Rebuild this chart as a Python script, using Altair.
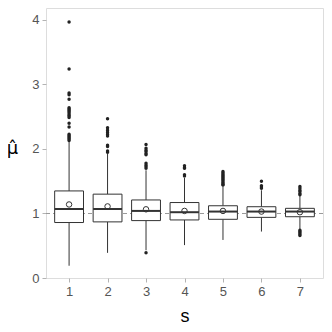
import altair as alt
import pandas as pd

s_vals = [1, 2, 3, 4, 5, 6, 7]
q1 = [0.86, 0.87, 0.89, 0.90, 0.91, 0.94, 0.95]
median = [1.07, 1.07, 1.04, 1.02, 1.03, 1.03, 1.03]
q3 = [1.35, 1.30, 1.21, 1.17, 1.12, 1.105, 1.08]
whisk_lo = [0.19, 0.39, 0.43, 0.51, 0.59, 0.72, 0.755]
whisk_hi = [2.11, 1.93, 1.67, 1.55, 1.42, 1.36, 1.28]
means = [1.14, 1.11, 1.065, 1.04, 1.04, 1.03, 1.02]

outliers = {
    1: [3.97, 3.24, 2.87, 2.84, 2.77, 2.64, 2.62, 2.60, 2.58, 2.56, 2.53, 2.51, 2.49,
        2.40, 2.34, 2.23, 2.21, 2.19, 2.17, 2.15, 2.13],
    2: [2.47, 2.33, 2.29, 2.26, 2.23, 2.20, 2.06, 2.04, 1.97, 1.95],
    3: [2.07, 2.01, 1.98, 1.96, 1.93, 1.91, 1.78, 1.75, 1.73, 1.70, 0.39],
    4: [1.74, 1.71, 1.70, 1.60, 1.58],
    5: [1.65, 1.63, 1.61, 1.59, 1.57, 1.55, 1.53, 1.51, 1.49, 1.47, 1.45, 1.44],
    6: [1.50, 1.43, 1.41, 1.39],
    7: [1.42, 1.39, 1.36, 1.34, 1.31, 1.29, 0.74, 0.72, 0.70, 0.68, 0.66],
}

box_df = pd.DataFrame({"s": s_vals, "q1": q1, "median": median, "q3": q3,
                       "lo": whisk_lo, "hi": whisk_hi, "mean": means})
out_df = pd.DataFrame([{"s": k, "v": v} for k, vs in outliers.items() for v in vs])
ref_df = pd.DataFrame({"y": [1.0]})

LINE = "#333333"
xs = alt.Scale(domain=[0.4, 7.6], nice=False, zero=False)
ys = alt.Scale(domain=[0, 4.186], nice=False, zero=False)

xax = alt.Axis(values=s_vals, grid=False, domain=False, tickColor="#b3b3b3", tickSize=4,
               labelFontSize=13, labelColor="#555555", labelPadding=3, format="d",
               title="s", titleFontSize=18, titleFontWeight="normal", titleColor="#000000",
               titlePadding=9, labelFont="Liberation Sans", titleFont="Liberation Sans")
yax = alt.Axis(values=[0, 1, 2, 3, 4], grid=False, domain=False, tickColor="#b3b3b3", tickSize=4,
               labelFontSize=13, labelColor="#555555", labelPadding=3, format="d",
               title="μ̂", titleFontSize=18, titleFontWeight="normal", titleColor="#000000",
               titleAngle=0, titleX=-34, titleY=140, titleAlign="center", titleBaseline="middle",
               labelFont="Liberation Sans", titleFont="DejaVu Sans")

base = alt.Chart(box_df).transform_calculate(
    xl="datum.s - 0.375", xr="datum.s + 0.375")

ref = alt.Chart(ref_df).mark_rule(color="#999999", strokeDash=[4, 3], strokeWidth=1).encode(
    y=alt.Y("y:Q", scale=ys, axis=yax), x=alt.value(0), x2=alt.value(277))

whisk_low = base.mark_rule(color=LINE, strokeWidth=1).encode(
    x=alt.X("s:Q", scale=xs, axis=xax), y=alt.Y("lo:Q", scale=ys), y2="q1:Q")
whisk_high = base.mark_rule(color=LINE, strokeWidth=1).encode(
    x=alt.X("s:Q", scale=xs), y=alt.Y("q3:Q", scale=ys), y2="hi:Q")

box = base.mark_rect(fill="white", stroke=LINE, strokeWidth=1).encode(
    x=alt.X("xl:Q", scale=xs), x2="xr:Q", y=alt.Y("q1:Q", scale=ys), y2="q3:Q")

med = base.mark_rule(color=LINE, strokeWidth=2).encode(
    x=alt.X("xl:Q", scale=xs), x2="xr:Q", y=alt.Y("median:Q", scale=ys))

pts = alt.Chart(out_df).mark_circle(color="#222222", opacity=1, size=12).encode(
    x=alt.X("s:Q", scale=xs), y=alt.Y("v:Q", scale=ys))

mn = base.mark_point(shape="circle", filled=False, color=LINE, strokeWidth=1, size=30, opacity=1).encode(
    x=alt.X("s:Q", scale=xs), y=alt.Y("mean:Q", scale=ys))

chart = alt.layer(ref, whisk_low, whisk_high, box, med, pts, mn).properties(
    width=277, height=270,
    autosize=alt.AutoSizeParams(type="none"),
    padding={"left": 38, "top": 0, "right": 1, "bottom": 46},
).configure_view(stroke="#b3b3b3", strokeWidth=1).configure(background="white")

chart.save("out.html", embed_options={"renderer": "svg", "actions": False})
